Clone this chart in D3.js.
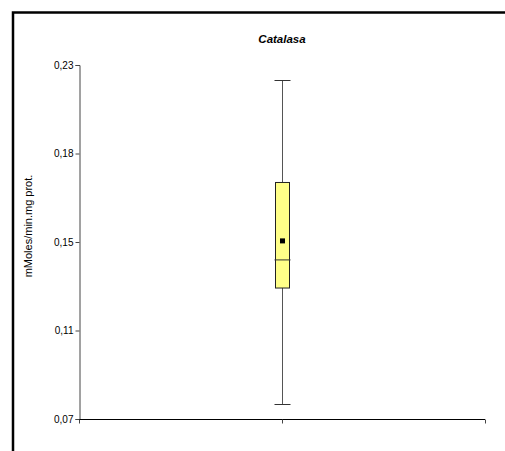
<!DOCTYPE html>
<html><head><meta charset="utf-8">
<script src="https://cdn.jsdelivr.net/npm/d3@7"></script>
<style>html,body{margin:0;background:#fff;overflow:hidden}svg{display:block}</style>
</head><body>
<script>
const title = "Catalasa";
const yLabel = "mMoles/min.mg prot.";
const yTickValues = [0.07, 0.11, 0.15, 0.19, 0.23];
const yTickLabels = ["0,07", "0,11", "0,15", "0,18", "0,23"];
const xTickValues = [0, 1, 2];
const boxPosition = [1];
const whiskerLow = [0.0768];
const q1 = [0.1292];
const median = [0.1419];
const mean = [0.1505];
const q3 = [0.1769];
const whiskerHigh = [0.2230];

const W = 505, H = 451;
const svg = d3.select("body").append("svg").attr("width", W).attr("height", H);
svg.append("rect").attr("width", W).attr("height", H).attr("fill", "#fff");
// outer frame: only top and left edges are within the canvas
svg.append("path").attr("d", `M13,${H + 5}V12.5H${W}`)
  .attr("fill", "none").attr("stroke", "#000").attr("stroke-width", 2.5);

const y = d3.scaleLinear().domain([0.07, 0.23]).range([419, 65]);
const x = d3.scaleLinear().domain([0, 2]).range([79, 485]);

svg.append("text").attr("x", 282).attr("y", 43).attr("text-anchor", "middle")
  .attr("font-family", "Liberation Sans, Arial, sans-serif").attr("font-size", 11.5)
  .attr("font-weight", "bold").attr("font-style", "italic").text(title);

svg.append("text").attr("transform", "translate(32,226) rotate(-90)").attr("text-anchor", "middle")
  .attr("font-family", "Liberation Sans, Arial, sans-serif").attr("font-size", 11).text(yLabel);

const yAxis = d3.axisLeft(y).tickValues(yTickValues).tickSize(4).tickPadding(2)
  .tickFormat((d, i) => yTickLabels[i]);
const gy = svg.append("g").attr("transform", "translate(79.5,0)").call(yAxis);
gy.select(".domain").attr("stroke", "#444");
gy.selectAll(".tick line").attr("stroke", "#444");
gy.selectAll("text").attr("font-family", "Liberation Sans, Arial, sans-serif").attr("font-size", 10).attr("fill", "#000");

const xAxis = d3.axisBottom(x).tickValues(xTickValues).tickSize(4).tickFormat("");
const gx = svg.append("g").attr("transform", "translate(0,419.5)").call(xAxis);
gx.select(".domain").attr("stroke", "#000").attr("d", `M${x(0)},0H${x(2)}`);
gx.selectAll(".tick line").attr("stroke", "#444");

const bw = 14, cw = 16;
boxPosition.forEach((p, i) => {
  const cx = Math.round(x(p)) + 0.5;
  const g = svg.append("g");
  g.append("line").attr("x1", cx).attr("x2", cx).attr("y1", y(whiskerHigh[i])).attr("y2", y(whiskerLow[i]))
    .attr("stroke", "#555").attr("stroke-width", 1);
  [whiskerHigh[i], whiskerLow[i]].forEach(v => {
    g.append("line").attr("x1", cx - cw / 2).attr("x2", cx + cw / 2).attr("y1", Math.round(y(v)) + 0.5).attr("y2", Math.round(y(v)) + 0.5)
      .attr("stroke", "#333").attr("stroke-width", 1);
  });
  g.append("rect").attr("x", cx - bw / 2).attr("width", bw)
    .attr("y", y(q3[i])).attr("height", y(q1[i]) - y(q3[i]))
    .attr("fill", "#ffff88").attr("stroke", "#222").attr("stroke-width", 1);
  g.append("line").attr("x1", cx - bw / 2 - 1).attr("x2", cx + bw / 2 + 1).attr("y1", y(median[i])).attr("y2", y(median[i]))
    .attr("stroke", "#333").attr("stroke-width", 1);
  g.append("rect").attr("x", cx - 2.5).attr("y", y(mean[i]) - 2.5).attr("width", 5).attr("height", 5).attr("fill", "#000");
});
</script>
</body></html>
